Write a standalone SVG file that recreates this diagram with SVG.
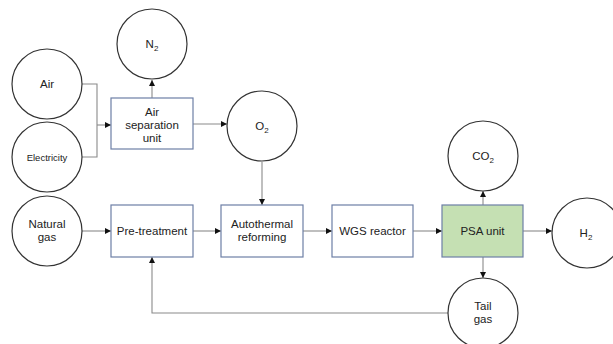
<svg xmlns="http://www.w3.org/2000/svg" width="613" height="344" viewBox="0 0 613 344">
<defs>
<marker id="arr" markerWidth="6" markerHeight="6" refX="6" refY="3" orient="auto" markerUnits="userSpaceOnUse">
<path d="M0,0 L6,3 L0,6 z" fill="#111"/>
</marker>
<style>
.c{fill:#fff;stroke:#333;stroke-width:1.2}
.b{fill:#fff;stroke:#6d7fa6;stroke-width:1.2}
.g{fill:#c5e0b3;stroke:#6d7fa6;stroke-width:1.2}
.l{fill:none;stroke:#8a8a8a;stroke-width:1.1}
.a{marker-end:url(#arr)}
text{font-family:"Liberation Sans",Arial,sans-serif;font-size:11.5px;fill:#222;text-anchor:middle}
.s{font-size:8px}
.sm{font-size:9.5px}
</style>
</defs>
<rect width="613" height="344" fill="#fff"/>
<g id="connectors">
<path class="l" d="M82,84 H97 V157 H82"/>
<path class="l a" d="M97,125 H111"/>
<path class="l a" d="M152,98 V80"/>
<path class="l a" d="M193,124 H227"/>
<path class="l a" d="M262,162 V205"/>
<path class="l a" d="M82,231 H111"/>
<path class="l a" d="M193,231 H221"/>
<path class="l a" d="M303,231 H332"/>
<path class="l a" d="M413,231 H442"/>
<path class="l a" d="M523,231 H552"/>
<path class="l a" d="M483,205 V191"/>
<path class="l a" d="M483,257 V278"/>
<path class="l a" d="M448,313 H152 V257"/>
</g>
<g id="n2"><circle class="c" cx="152" cy="44" r="35"/><text x="152" y="48">N<tspan class="s" dy="3">2</tspan></text></g>
<g id="air"><circle class="c" cx="47" cy="84" r="35"/><text x="47" y="88">Air</text></g>
<g id="electricity"><circle class="c" cx="47" cy="157" r="35"/><text class="sm" x="47" y="161">Electricity</text></g>
<g id="asu"><rect class="b" x="111" y="98" width="82" height="51"/><text x="152" y="116">Air</text><text x="152" y="129">separation</text><text x="152" y="142">unit</text></g>
<g id="o2"><circle class="c" cx="262" cy="126" r="35"/><text x="262" y="130">O<tspan class="s" dy="3">2</tspan></text></g>
<g id="natgas"><circle class="c" cx="47" cy="231" r="35"/><text x="47" y="228">Natural</text><text x="47" y="241">gas</text></g>
<g id="pretreat"><rect class="b" x="111" y="205" width="82" height="52"/><text x="152" y="235">Pre-treatment</text></g>
<g id="atr"><rect class="b" x="221" y="205" width="82" height="52"/><text x="262" y="228">Autothermal</text><text x="262" y="241">reforming</text></g>
<g id="wgs"><rect class="b" x="332" y="205" width="81" height="52"/><text x="372.5" y="235">WGS reactor</text></g>
<g id="psa"><rect class="g" x="442" y="205" width="81" height="52"/><text x="482.5" y="235">PSA unit</text></g>
<g id="co2"><circle class="c" cx="483" cy="156" r="35"/><text x="483" y="160">CO<tspan class="s" dy="3">2</tspan></text></g>
<g id="h2"><circle class="c" cx="587" cy="233" r="35"/><text x="586" y="237">H<tspan class="s" dy="3">2</tspan></text></g>
<g id="tailgas"><circle class="c" cx="483" cy="313" r="35"/><text x="483" y="310">Tail</text><text x="483" y="323">gas</text></g>
</svg>
